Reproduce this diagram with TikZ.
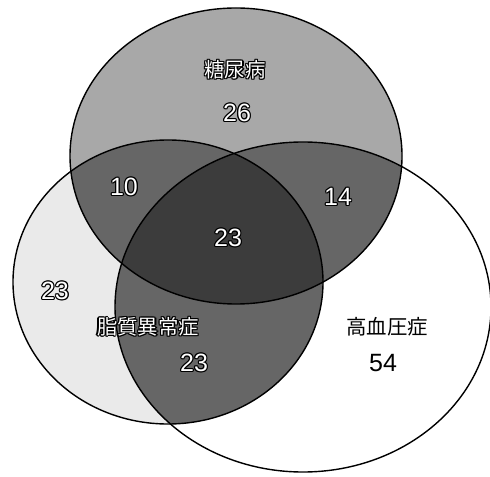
\documentclass[tikz,border=0pt]{standalone}
\usepackage{fontspec}
\setmainfont{Liberation Sans}
\newfontfamily\cjk{Noto Sans CJK JP}
\definecolor{lightgray}{RGB}{234,234,234}
\definecolor{midgray}{RGB}{168,168,168}
\definecolor{darkgray}{RGB}{102,102,102}
\definecolor{deepgray}{RGB}{60,60,60}

\newcommand\halo[1]{\sbox0{#1}%
  \foreach \dx/\dy in {.6/0,-.6/0,0/.6,0/-.6,.42/.42,-.42/.42,.42/-.42,-.42/-.42}{%
    \rlap{\kern\dx pt\raisebox{\dy pt}{\textcolor{black}{\copy0}}}}%
  \textcolor{white}{#1}}

\begin{document}
\begin{tikzpicture}[x=0.5pt,y=0.5pt]
  \tikzset{num/.style={inner sep=0pt,font=\fontsize{12.5}{12.5}\selectfont}}
  \tikzset{disease/.style={inner sep=0pt,font=\cjk\fontsize{10.2}{10.2}\selectfont}}
  \tikzset{rim/.style={draw=black,line width=0.7pt}}

  \def\pathT{(236,320) ellipse [x radius=83pt, y radius=74pt]}
  \def\pathL{(168,194) ellipse [x radius=77.5pt, y radius=71pt]}
  \def\pathR{(303,169) ellipse [x radius=94pt, y radius=82.5pt]}

  \useasboundingbox (0,0) rectangle (490,476);

  \fill[lightgray] \pathL;
  \fill[midgray] \pathT;
  \begin{scope}
    \clip \pathT;
    \fill[darkgray] \pathL;
    \fill[darkgray] \pathR;
  \end{scope}
  \begin{scope}
    \clip \pathL;
    \fill[darkgray] \pathR;
  \end{scope}
  \begin{scope}
    \clip \pathT;
    \clip \pathL;
    \fill[deepgray] \pathR;
  \end{scope}

  \draw[rim] \pathT;
  \draw[rim] \pathL;
  \draw[rim] \pathR;

  \node[disease] (diabetes) at (235,406) {\halo{糖尿病}};
  \node[num] (ndiabetes) at (237,363) {\halo{26}};
  \node[num] (ndialip) at (124,289) {\halo{10}};
  \node[num] (ndiahyp) at (338,279) {\halo{14}};
  \node[num] (nall) at (228,238) {\halo{23}};
  \node[num] (nlipid) at (55,185) {\halo{23}};
  \node[disease] (lipid) at (148,149) {\halo{脂質異常症}};
  \node[num] (nliphyp) at (194,113) {\halo{23}};
  \node[disease] (hyper) at (387,149) {高血圧症};
  \node[num] (nhyper) at (383,113) {54};

\end{tikzpicture}
\end{document}
